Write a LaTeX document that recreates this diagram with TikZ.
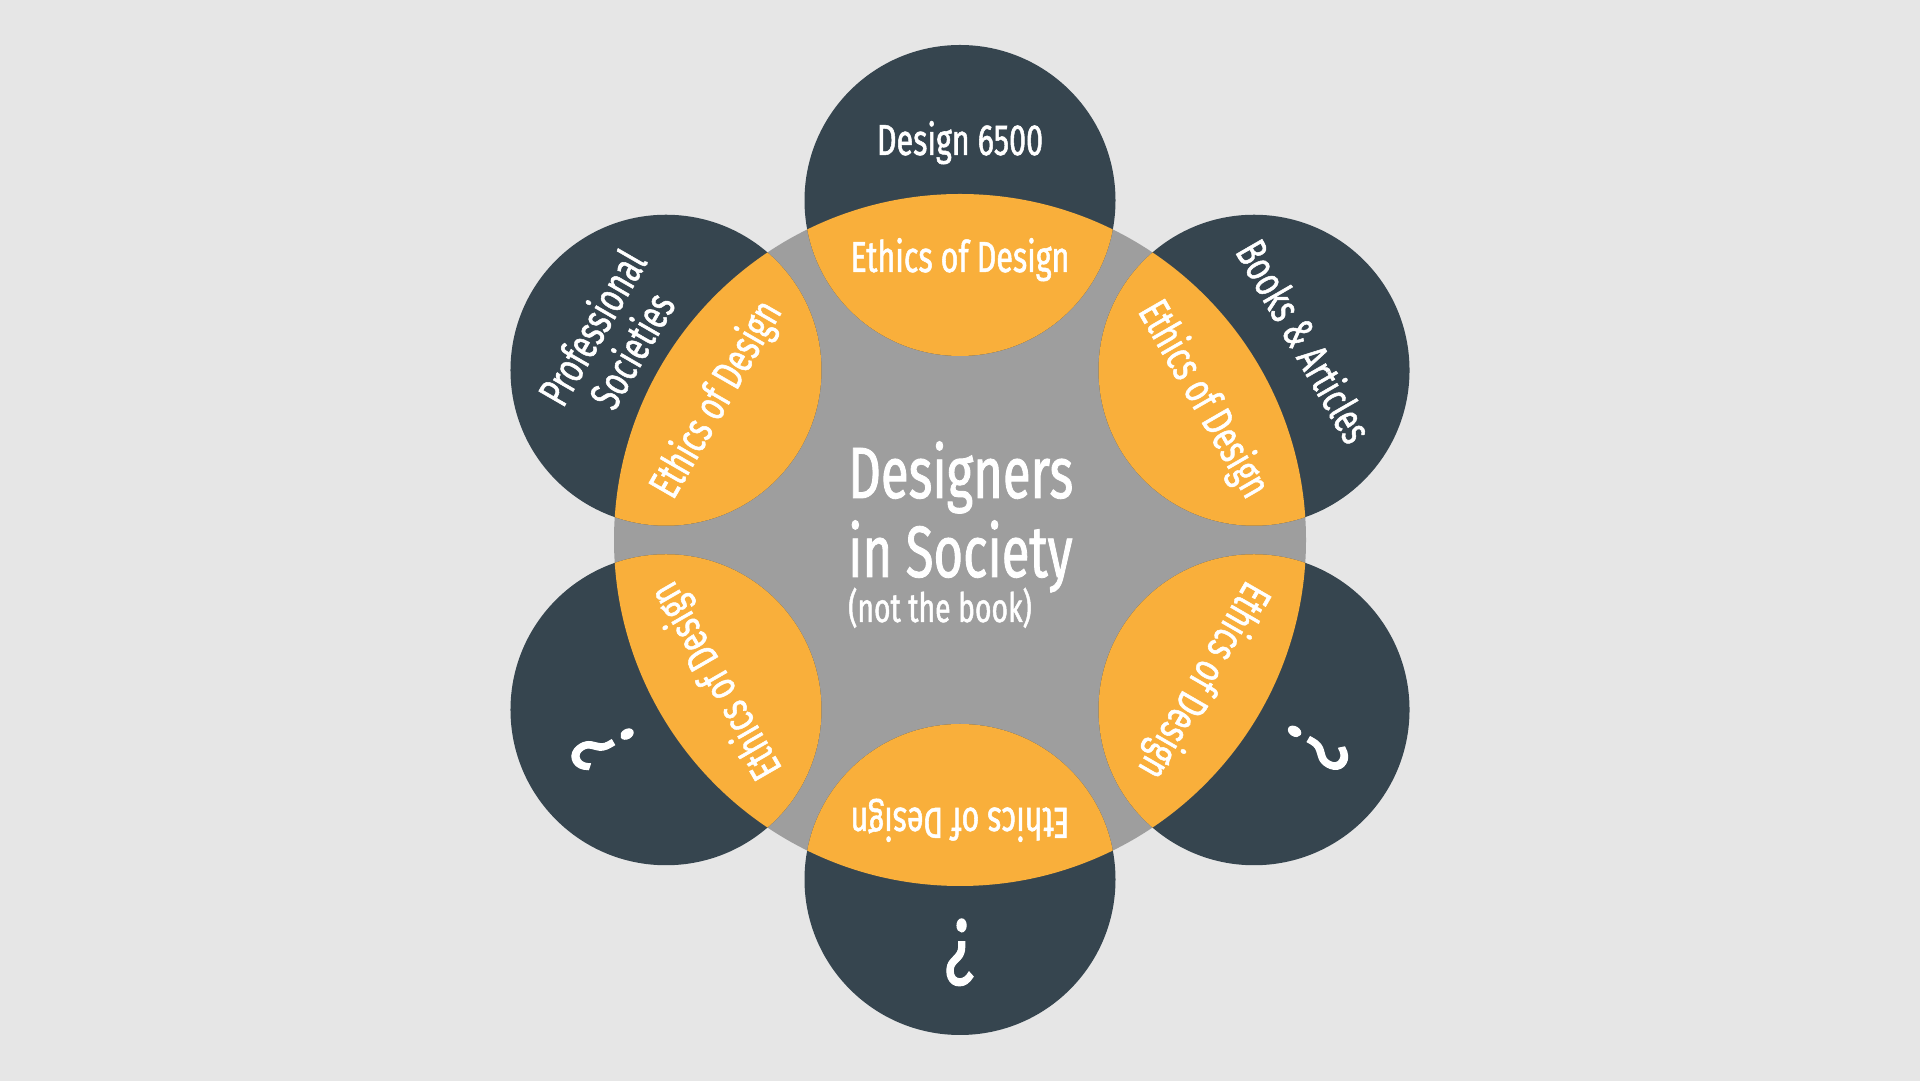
\documentclass[tikz,border=0pt]{standalone}
\usepackage{fontspec}
\setmainfont{Fira Sans}[FakeStretch=0.70, FakeBold=1.2]
\definecolor{bgc}{RGB}{230,230,230}
\definecolor{darkc}{RGB}{54,69,79}
\definecolor{orangec}{RGB}{249,175,59}
\definecolor{grayc}{RGB}{158,158,158}
\tikzset{
  lenstext/.style={text=white, inner sep=0pt, text height=30pt, text depth=0pt,
    font=\fontsize{43.5}{50}\selectfont},
  outertext/.style={text=white, inner sep=0pt, text height=30pt, text depth=0pt,
    font=\fontsize{43.5}{50}\selectfont},
  qtext/.style={text=white, inner sep=0pt, text height=64pt, text depth=0pt,
    font=\fontsize{94}{100}\selectfont},
  bigtext/.style={text=white, inner sep=0pt, anchor=base west,
    font=\fontsize{72.6}{80}\selectfont},
  smalltext/.style={text=white, inner sep=0pt, anchor=base west,
    font=\fontsize{40.5}{46}\selectfont}
}
\begin{document}
\begin{tikzpicture}[x=1pt,y=1pt]
\useasboundingbox (0,0) rectangle (1920,1081);
\fill[bgc] (0,0) rectangle (1920,1081);
\coordinate (C) at (960,541);
\fill[grayc] (C) circle[radius=346pt];
\foreach \a in {90,30,-30,-90,-150,-210}
  \fill[darkc] (C) ++(\a:339.5) circle[radius=155.5pt];
\begin{scope}
  \clip (C) circle[radius=346pt];
  \foreach \a in {90,30,-30,-90,-150,-210}
    \fill[orangec] (C) ++(\a:339.5) circle[radius=155.5pt];
\end{scope}
% lens labels
\foreach \k in {0,...,5}
  \path (C) ++({90-60*\k}:283) node[lenstext, rotate={-60*\k}] (e\k) {Ethics of Design};
% outer labels
\path (C) ++(90:400) node[outertext] (o0) {Design 6500};
\path (C) ++(30:397) node[outertext, rotate=-60] (o1) {Books \& Articles};
\path (C) ++(150:403) node[outertext, rotate=60, align=center, text height=, text depth=,
  font=\fontsize{43.5}{46}\selectfont] (o5) {Professional\\Societies};
\path (C) ++(-30:412) node[qtext, rotate=-120] (o2) {?};
\path (C) ++(-90:412) node[qtext, rotate=180] (o3) {?};
\path (C) ++(-150:412) node[qtext, rotate=120] (o4) {?};
% center title
\node[bigtext] (t1) at (848,583) {Designers};
\node[bigtext] (t2) at (848,504) {in Society};
\node[smalltext] (t3) at (848,459) {(not the book)};
\end{tikzpicture}
\end{document}
